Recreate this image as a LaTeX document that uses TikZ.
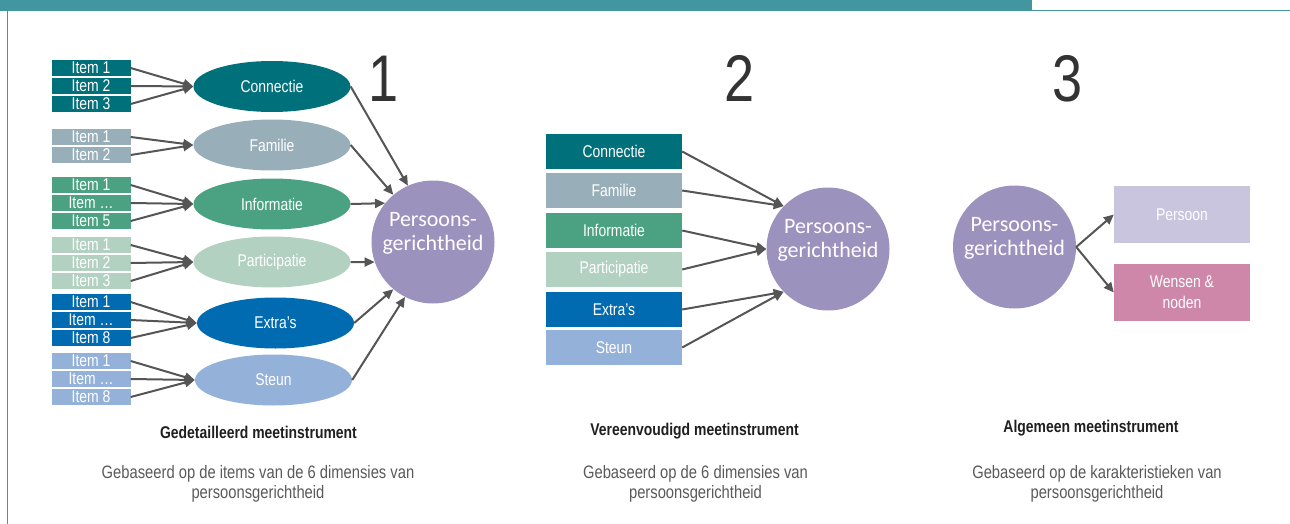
\documentclass[tikz,border=0pt]{standalone}
\usepackage{fontspec}
\setmainfont{Liberation Sans}[FakeStretch=0.82]
\newfontfamily\circfont{Carlito}
\usetikzlibrary{arrows.meta,positioning,shapes.geometric}
\definecolor{conC}{HTML}{00707A}
\definecolor{famC}{HTML}{98AFBA}
\definecolor{infC}{HTML}{4BA283}
\definecolor{parC}{HTML}{B3D1C1}
\definecolor{extC}{HTML}{006BB0}
\definecolor{steC}{HTML}{94B1D9}
\definecolor{pgC}{HTML}{9B92BE}
\definecolor{perC}{HTML}{C9C5DF}
\definecolor{wenC}{HTML}{CE87A8}
\definecolor{barC}{HTML}{4296A0}
\definecolor{arrC}{HTML}{555555}
\definecolor{numC}{HTML}{333333}
\definecolor{subC}{HTML}{595959}

\begin{document}
\begin{tikzpicture}[x=1pt,y=-1pt,
  item/.style={fill=#1,text=white,minimum width=79pt,minimum height=16pt,inner sep=0pt,font=\fontsize{17}{17}\selectfont},
  dim/.style={ellipse,fill=#1,text=white,minimum width=157pt,minimum height=51pt,inner sep=0pt,font=\fontsize{17}{17}\selectfont},
  dimbox/.style={fill=#1,text=white,minimum width=136pt,minimum height=35pt,inner sep=0pt,font=\fontsize{17}{17}\selectfont},
  resbox/.style={fill=#1,text=white,minimum width=136pt,minimum height=57pt,inner sep=0pt,align=center,font=\fontsize{17}{21}\selectfont},
  pgcirc/.style={circle,fill=pgC,minimum size=123pt,inner sep=0pt},
  pgtext/.style={text=white,align=center,font=\circfont\fontsize{22}{24}\selectfont},
  bignum/.style={text=numC,inner sep=0pt,font=\fontsize{66}{66}\selectfont},
  captitle/.style={text=black!88,font=\bfseries\fontsize{17}{20}\selectfont},
  capsub/.style={text=subC,align=center,font=\fontsize{18}{20}\selectfont},
  arr/.style={draw=arrC,line width=2pt,-{Triangle[length=10pt,width=9pt]}}]
\useasboundingbox (0,0) rectangle (1290,524);
\fill[barC] (0,0) rectangle (1032,11);
\draw[barC,line width=1pt] (1032,11) -- (1290,11);
\draw[barC,line width=1pt] (7.5,11) -- (7.5,524);

\foreach \n/\c/\y/\t in {con1/conC/68/1,con2/conC/86/2,con3/conC/104/3,
  fam1/famC/137/1,fam2/famC/155/2,
  inf1/infC/185/1,inf2/infC/203/…,inf3/infC/221/5,
  par1/parC/245/1,par2/parC/263/2,par3/parC/281/3,
  ext1/extC/302/1,ext2/extC/320/…,ext3/extC/338/8,
  ste1/steC/361/1,ste2/steC/379/…,ste3/steC/397/8} {
  \node[item=\c] (\n) at (91,\y) {Item \t};
}
\foreach \n/\c/\x/\y/\t in {con/conC/272/86.5/Connectie,fam/famC/272/145/Familie,
  inf/infC/272/204/Informatie,par/parC/272/262/Participatie,
  ext/extC/275.5/323/Extra’s,ste/steC/273.5/380/Steun} {
  \node[dim=\c] (\n) at (\x,\y) {\t};
}
\node[pgcirc] (pg1) at (433,242) {};
\node[pgtext] (pg1t) at ([yshift=9pt]pg1.center) {Persoons-\\gerichtheid};
\foreach \a/\b in {con1/con,con2/con,con3/con,fam1/fam,fam2/fam,
  inf1/inf,inf2/inf,inf3/inf,par1/par,par2/par,par3/par,
  ext1/ext,ext2/ext,ext3/ext,ste1/ste,ste2/ste,ste3/ste} {
  \draw[arr] (\a.east) -- (\b.west);
}
\foreach \a/\d in {con/114,fam/130,inf/141.5,par/199,ext/230,ste/243} {
  \draw[arr] (\a.east) -- (pg1.\d);
}
\node[bignum] (n1) at (383.5,78.5) {1};

\foreach \n/\c/\y/\t in {bcon/conC/151.5/Connectie,bfam/famC/190.5/Familie,
  binf/infC/230.5/Informatie,bpar/parC/269.5/Participatie,
  bext/extC/309.5/Extra’s,bste/steC/347.5/Steun} {
  \node[dimbox=\c] (\n) at (614,\y) {\t};
}
\node[pgcirc] (pg2) at (828,249) {};
\node[pgtext] (pg2t) at ([yshift=9pt]pg2.center) {Persoons-\\gerichtheid};
\foreach \a/\d in {bcon/136,bfam/136,binf/180,bpar/180,bext/224,bste/224} {
  \draw[arr] (\a.east) -- (pg2.\d);
}
\node[bignum] (n2) at (739.5,78.5) {2};

\node[pgcirc] (pg3) at (1014.5,247) {};
\node[pgtext] (pg3t) at ([yshift=9pt]pg3.center) {Persoons-\\gerichtheid};
\node[resbox=perC] (per) at (1182,214.5) {Persoon};
\node[resbox=wenC] (wen) at (1182,292.5) {Wensen \&\\noden};
\draw[arr] (pg3.east) -- (per.west);
\draw[arr] (pg3.east) -- (wen.west);
\node[bignum] (n3) at (1068,78.5) {3};

\node[captitle] (t1) at (258.5,432) {Gedetailleerd meetinstrument};
\node[captitle] (t2) at (694.5,431) {Vereenvoudigd meetinstrument};
\node[captitle] (t3) at (1091,428) {Algemeen meetinstrument};
\node[capsub] (s1) at (258,484) {Gebaseerd op de items van de 6 dimensies van\\persoonsgerichtheid};
\node[capsub] (s2) at (695.5,484) {Gebaseerd op de 6 dimensies van\\persoonsgerichtheid};
\node[capsub] (s3) at (1097,484) {Gebaseerd op de karakteristieken van\\persoonsgerichtheid};
\end{tikzpicture}
\end{document}
